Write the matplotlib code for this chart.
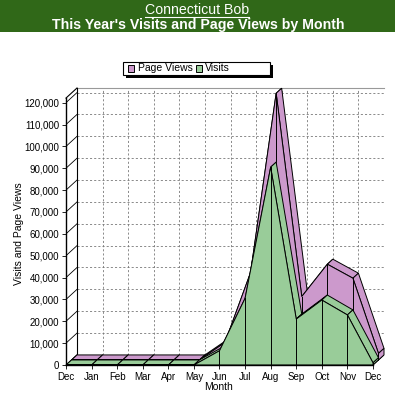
import numpy as np
import matplotlib
matplotlib.use('Agg')
import matplotlib.pyplot as plt
from matplotlib.patches import Rectangle, Polygon
from matplotlib.lines import Line2D

plt.rcParams['font.family'] = ['Liberation Sans', 'DejaVu Sans']

months = ['Dec', 'Jan', 'Feb', 'Mar', 'Apr', 'May', 'Jun',
          'Jul', 'Aug', 'Sep', 'Oct', 'Nov', 'Dec']
visits = [0, 0, 0, 0, 0, 0, 6500, 30500, 90500, 21000, 29700, 22900, 1000]
page_views = [0, 0, 0, 0, 0, 0, 8000, 40000, 122000, 29000, 43800, 37400, 3000]
yticks = list(range(0, 120001, 10000))

PURPLE = '#cc99cc'
GREEN = '#99cc99'
HEADER = '#306818'

# fake 3d depth (in data units)
DX = 0.43
DY = 4600
TOP = 122100

W, H = 400, 399
fig = plt.figure(figsize=(W / 100, H / 100), dpi=100)

ax = fig.add_axes([66 / W, 34 / H, 318 / W, 277 / H])
ax.set_xlim(0, 12 + DX)
ax.set_ylim(0, TOP + DY)
x = np.arange(len(months))
n = len(months) - 1

dash = (0, (2.5, 2.5))
# back wall grid
for v in yticks[1:]:
    ax.plot([DX, n + DX], [v + DY, v + DY], color='#777777', lw=0.6, ls=dash, zorder=1)
for i in x[1:]:
    ax.plot([i + DX, i + DX], [DY, TOP + DY], color='#777777', lw=0.6, ls=dash, zorder=1)
ax.plot([DX, n + DX], [DY, DY], color='#777777', lw=0.6, ls=dash, zorder=1)
ax.plot([DX, n + DX], [TOP + DY, TOP + DY], color='#999999', lw=0.8, zorder=1, clip_on=False)
ax.plot([DX, DX], [DY, TOP + DY], color='black', lw=0.8, zorder=1, clip_on=False)
# tick diagonals to the wall
for v in yticks:
    ax.plot([0, DX], [v, v + DY], color='black', lw=0.6, zorder=1)
ax.plot([0, DX], [TOP, TOP + DY], color='black', lw=0.8, zorder=1, clip_on=False)
for i in x:
    ax.plot([i, i + DX], [0, DY], color='black', lw=0.6, zorder=1)


def draw_row(vals, k0, k1, color):
    ox0, oy0 = k0 * DX, k0 * DY
    ox1, oy1 = k1 * DX, k1 * DY
    for i in range(len(vals) - 1):
        quad = [(x[i] + ox0, vals[i] + oy0), (x[i + 1] + ox0, vals[i + 1] + oy0),
                (x[i + 1] + ox1, vals[i + 1] + oy1), (x[i] + ox1, vals[i] + oy1)]
        ax.add_patch(Polygon(quad, fc=color, ec='black', lw=0.7, zorder=2, clip_on=False))
    # right end face
    end = [(x[-1] + ox0, oy0), (x[-1] + ox0, vals[-1] + oy0),
           (x[-1] + ox1, vals[-1] + oy1), (x[-1] + ox1, oy1)]
    ax.add_patch(Polygon(end, fc=color, ec='black', lw=0.7, zorder=2, clip_on=False))
    # front face
    front = [(x[0] + ox0, oy0)] + [(xi + ox0, v + oy0) for xi, v in zip(x, vals)] + [(x[-1] + ox0, oy0)]
    ax.add_patch(Polygon(front, fc=color, ec='black', lw=0.7, zorder=2, clip_on=False))
    for xi, v in zip(x, vals):
        if v > 0:
            ax.plot([xi + ox0, xi + ox0], [oy0, v + oy0], color='black', lw=0.7, zorder=2)


draw_row(page_views, 0.5, 1.0, PURPLE)
draw_row(visits, 0.0, 0.5, GREEN)

for s in ['top', 'right']:
    ax.spines[s].set_visible(False)
ax.spines['left'].set_bounds(0, TOP)
ax.spines['bottom'].set_bounds(0, n)
ax.spines['left'].set_linewidth(1.0)
ax.spines['bottom'].set_linewidth(1.0)
ax.set_xticks(x, months)
ax.set_yticks(yticks, [f'{v:,}' for v in yticks])
ax.tick_params(labelsize=7, length=3, width=0.6, pad=2)
ax.set_xlabel('Month', fontsize=7.5)
ax.set_ylabel('Visits and Page Views', fontsize=7.5)
ax.xaxis.set_label_coords(0.478, -0.062)
ax.yaxis.set_label_coords(-0.133, 0.476)

# header bar
fig.add_artist(Rectangle((0, 1 - 32 / H), 395 / W, 32 / H, transform=fig.transFigure,
                         fc=HEADER, ec='none'))
t1 = fig.text(197 / W, 1 - 9.5 / H, 'Connecticut Bob', color='white', fontsize=10.2,
              ha='center', va='center')
fig.text(198 / W, 1 - 24.5 / H, "This Year's Visits and Page Views by Month",
         color='white', fontsize=10.2, fontweight='bold', ha='center', va='center')
fig.canvas.draw()
bb = t1.get_window_extent()
fig.add_artist(Line2D([bb.x0 / W, bb.x1 / W], [1 - 16.7 / H] * 2, transform=fig.transFigure,
                      color='white', lw=0.8))

# legend box with shadow
fig.add_artist(Rectangle((126 / W, 1 - 78 / H), 147 / W, 13.3 / H, transform=fig.transFigure,
                         fc='black', ec='none'))
fig.add_artist(Rectangle((123 / W, 1 - 75 / H), 147 / W, 13.3 / H, transform=fig.transFigure,
                         fc='white', ec='black', lw=0.8))
for lx, tx, label, col in [(128, 137.5, 'Page Views', PURPLE), (196, 205, 'Visits', GREEN)]:
    fig.add_artist(Rectangle((lx / W, 1 - 71.5 / H), 5.5 / W, 6.5 / H, transform=fig.transFigure,
                             fc=col, ec='black', lw=0.7))
    fig.text(tx / W, 1 - 68.3 / H, label, fontsize=7.5, ha='left', va='center')

fig.savefig('out.png', dpi=100)
